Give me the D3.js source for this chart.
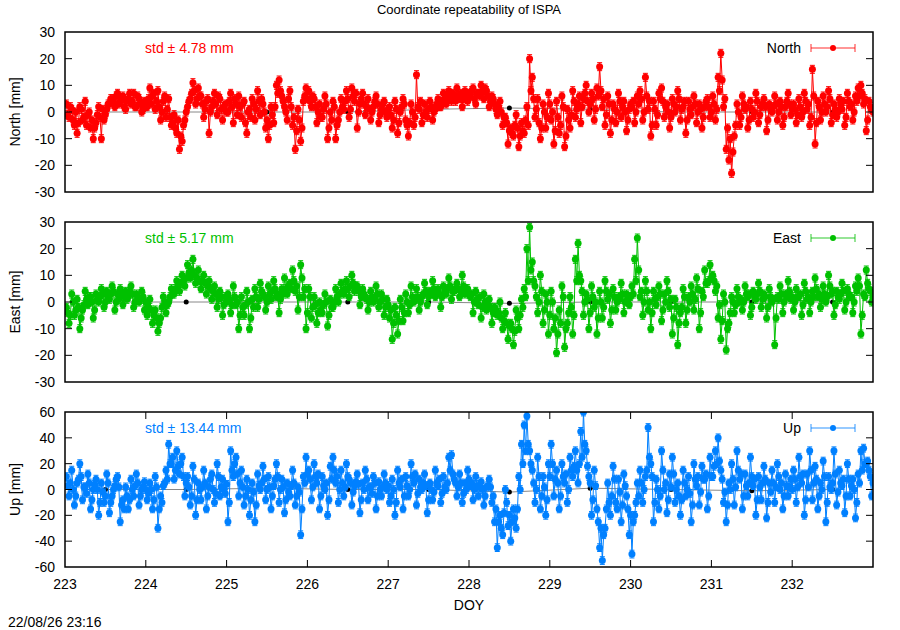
<!DOCTYPE html>
<html>
<head>
<meta charset="utf-8">
<script src="https://cdn.jsdelivr.net/npm/d3@7"></script>
<style>
  body { margin: 0; background: #fff; }
  svg text { font-family: "Liberation Sans", Arial, sans-serif; }
</style>
</head>
<body>
<svg id="chart" width="900" height="630"></svg>
<script>
// epoch solutions in mm, 30 per day for DOY 223-232;
// the "B" lists are the epochs half way between the "A" ones
const epochsPerDay = 30;
const firstDoy = 223;

const northValues = [
  3, -2, 1, -5, -8, 2, -3, 4, -1, -6, -10, -4, 2, -10, -3, 1, 3, 5, 2, 7, 4, 6, 1, 5, 3, 7, 2, 5, 0, 4,
  2, 9, 6, 1, 8, -3, 4, -2, 5, -5, -1, -8, -14, -11, -3, 2, 5, 11, 3, 9, 6, -2, 4, -8, 2, 7, -1, 5, -3, 3,
  0, 7, -4, 3, 6, -2, 4, -8, 1, 5, -3, 8, -1, 3, -6, -10, 2, -4, 10, 12, 6, 2, -3, 8, -5, -14, 1, -11, 4, 9,
  8, 2, 5, -4, 3, -2, 6, -10, 0, 4, -10, -3, 5, 1, 8, -2, 9, 4, -6, 3, 7, -1, 5, -3, 2, 6, -4, 1, 4, -2,
  2, -6, 4, -8, 0, 5, -3, -9, 3, -5, 14, 1, -4, 3, -2, 4, -3, 1, 5, 2, 7, 3, 8, 4, 6, 9, 5, 2, 8, 4,
  6, 9, 3, 7, 10, 5, 8, 2, 6, 3, -1, 4, -5, -2, -12, -6, -9, -1, -13, -4, -8, 2, 20, 13, -2, 5, -10, 3, -6, 7,
  -3, -12, 4, -8, 6, -13, 1, -6, 8, -2, 3, -4, 5, 10, 0, 7, -3, 9, 17, 2, -5, 6, -8, 3, -4, 7, -2, 4, -7, 1,
  2, -4, 6, 8, -3, 13, 1, -9, 4, -5, 7, 9, -2, 3, -6, 5, 0, 8, -3, 2, -8, 4, -1, 6, -4, 3, -6, 2, 5, -2,
  6, -3, 13, 22, 2, -14, -18, -23, -9, 3, -5, 6, 1, -6, 4, -2, 7, -4, 2, 5, -7, 3, 0, 6, -3, 4, -5, 2, 7, -1,
  3, -4, 5, -2, 7, 1, -5, 16, -12, 4, -3, 6, 0, 8, -4, 3, -2, 5, 1, -5, 7, 2, -3, 6, 9, 10, 3, -7, 4, 1
];
const northValuesB = [
  -1, 2, -3, 0, -4, 1, -2, -5, 0, -3, -6, -1, -2, 1, -1, 3, 5, 4, 6, 3, 5, 2, 4, 7, 4, 2, 6, 3, 1, 2,
  5, 3, 7, 4, 2, 0, 6, 1, -2, -4, -6, -3, -9, -5, 0, 4, 7, 8, 5, 6, 3, 1, 5, 0, 4, 3, 6, 1, 2, 0,
  4, 2, 5, -1, 2, 3, -4, 0, -2, 3, 1, 4, 5, 0, -3, -5, -1, 2, 7, 8, 4, 0, 5, 2, -2, -7, -3, -6, 6, 5,
  4, 6, 2, 0, -2, 1, 3, -6, -3, 2, -5, 0, 2, 4, 5, 1, 6, 7, 0, 5, 3, 2, 1, 0, 4, 3, -1, 3, 0, 1,
  -1, -3, 1, -4, 2, 3, -5, -4, 0, -2, 2, 4, -1, 0, 1, 2, 0, 3, 2, 4, 5, 6, 5, 7, 4, 6, 7, 5, 6, 7,
  8, 5, 7, 6, 8, 9, 6, 4, 5, 1, 2, 0, -2, -4, -7, -8, -5, -6, -9, -7, -3, -5, 8, 5, 1, -4, -6, 0, -2, 3,
  0, -7, -2, -5, 2, -9, -3, -1, 4, 1, 6, 2, 7, 4, 3, 5, 1, 6, 8, 5, -1, 3, -3, 1, 0, 4, 2, 0, -3, 3,
  4, 0, 3, 5, 0, 6, 4, -5, 1, -1, 5, 4, 2, 0, -2, 3, 2, 5, 1, 4, -3, 1, 2, 3, 0, 1, -2, 4, 2, 0,
  3, 1, 8, 12, 5, -6, -10, -15, -5, 0, -2, 3, 2, -3, 1, 0, 4, -1, 3, 2, -3, 1, 2, 3, 0, 2, -2, 4, 3, 1,
  1, -1, 2, 0, 4, 3, -2, 6, -4, 2, 0, 3, 2, 5, -1, 1, 0, 3, 4, -2, 4, 3, 0, 4, 6, 7, 5, -3, 2, 0
];

const eastValues = [
  -2, -8, 3, -5, 1, -10, -3, 4, -1, 2, -6, 3, 0, 5, -2, 4, 1, 6, -3, 3, 5, -1, 4, 2, 6, -2, 3, 0, 4, -3,
  -5, 1, -8, -3, -11, -6, 2, -4, 0, 5, 3, 8, 4, 10, 6, 14, 9, 16, 7, 12, 5, 10, 3, 8, 1, 6, -2, 4, -5, 2,
  3, -4, 6, -1, -10, 2, -5, 4, -10, 1, 5, -2, 7, 3, -3, 6, 1, 8, 2, -4, 5, 9, 3, 7, 12, 4, -3, 14, 2, -10,
  5, -6, 2, -8, 0, -4, 3, -9, 1, -2, 5, 0, 7, 3, 8, 2, 10, 4, 6, -1, 5, 2, -3, 4, 0, 6, -2, 3, -5, 1,
  -6, -14, -2, -12, 1, -7, 3, -4, 6, 0, 5, -3, 2, 7, -1, 4, 8, 2, 5, -2, 6, 3, 9, 1, 4, 7, 2, 10, 3, 5,
  2, -4, 4, -1, -6, 3, -3, 1, -8, -2, -5, 0, -10, -4, -14, -8, -16, -3, -10, 1, 5, 20, 28, 15, 6, -4, 10, -8, 3, -12,
  4, -10, -19, -3, 6, -17, -8, 2, -12, 16, 22, 8, -5, 3, -10, 6, -2, -12, 4, -6, 8, 1, -8, 5, -3, 2, 7, -4, 3, -1,
  6, 16, 24, 2, -5, 8, -3, -10, 4, -1, 6, -7, 3, 8, -2, -12, 1, -16, -4, 5, -8, 2, 6, -3, 9, -10, 4, 12, 7, 14,
  10, 4, -6, -14, 3, -18, -8, 2, -4, 5, 0, -3, 6, 2, -5, 4, 1, 7, -2, 3, -6, 5, 0, -16, 2, 6, -4, 3, 8, 1,
  -3, 5, 2, -5, 7, 1, -4, 4, 9, 2, -2, 6, 0, 10, 3, -5, 4, 1, 7, -3, 5, 2, -4, 6, 9, -12, 3, 12, 5, 0
];
const eastValuesB = [
  -4, -5, 0, -3, -2, -6, -1, 1, 2, 0, -3, 1, 2, 3, 0, 2, 3, 4, 0, 1, 3, 2, 1, 4, 3, 0, 2, 1, 2, 0,
  -2, -3, -5, -6, -8, -2, 0, -1, 2, 3, 5, 6, 7, 8, 9, 11, 12, 10, 9, 8, 8, 7, 6, 5, 4, 3, 1, 2, -1, 0,
  1, -1, 2, 0, -5, -2, -1, 0, -6, -2, 2, 1, 4, 2, 0, 3, 4, 5, 3, 1, 3, 5, 6, 5, 8, 6, 2, 9, 5, -4,
  2, -2, -1, -4, -3, -1, 0, -5, -2, 0, 2, 3, 4, 5, 5, 6, 7, 6, 4, 2, 3, 1, 0, 2, 1, 3, 0, 1, -2, -1,
  -3, -8, -5, -7, -2, -4, 0, -1, 2, 1, 2, 0, 3, 4, 2, 3, 5, 4, 3, 2, 4, 5, 6, 4, 5, 5, 4, 6, 5, 3,
  3, 0, 1, 2, -2, 0, -1, -2, -4, -3, -4, -6, -7, -8, -9, -10, -11, -6, -5, -2, 2, 8, 12, 8, 2, 0, 4, -3, 0, -5,
  0, -6, -12, -8, 2, -10, -4, -2, -5, 8, 10, 4, 0, 1, -4, 2, 0, -6, 0, -2, 4, 3, -3, 2, 0, 1, 3, 0, 1, 2,
  3, 8, 12, 4, 0, 4, 0, -4, 1, 2, 3, -3, 0, 4, 1, -6, -2, -8, -2, 2, -3, 0, 3, 1, 5, -4, 2, 7, 8, 9,
  8, 6, -1, -7, 0, -10, -4, 0, -1, 2, 1, 0, 3, 3, -2, 2, 3, 4, 1, 2, -2, 2, 1, -6, 1, 3, 0, 2, 4, 2,
  0, 2, 3, -1, 4, 2, 0, 2, 5, 3, 1, 3, 2, 6, 4, -1, 2, 3, 4, 0, 3, 2, 0, 4, 6, -5, 2, 7, 4, 2
];

const upValues = [
  10, -5, 15, -12, 5, 20, -8, 2, 12, -15, 0, 8, -20, 5, -10, 12, -18, -5, 3, 10, -25, -8, 2, -15, 8, -5, 12, -12, 0, 6,
  -8, 5, -15, 10, -30, -5, 3, 15, 35, 20, 8, 30, 12, 25, -5, 10, -12, 18, -20, 5, -8, 15, -15, 2, 12, -10, 20, -5, 8, -3,
  -25, 30, 10, 25, -5, 15, -12, 8, -20, 5, -25, 12, 0, 18, -8, 10, -15, 3, 20, -10, 8, -18, 5, -5, 15, -12, 2, -35, 10, 25,
  15, -8, 20, 5, -15, 10, 0, -20, 18, 25, 5, -10, 15, -5, 20, 8, -12, 3, 12, -18, 5, 15, -8, 2, 10, -15, 6, -5, 12, 0,
  -10, 8, -20, 15, 2, -15, 10, -5, 20, 5, -12, 8, 0, 12, -18, 5, -8, 15, 3, -10, 10, 0, 25, 27, 8, -5, 12, -10, 5, 15,
  3, -8, 10, -5, 6, -12, 2, 8, -10, -25, -45, -20, -35, 0, -28, -40, -15, -30, 10, 35, 50, 57, 30, 15, -10, 25, -15, 10, -20, 20,
  35, -5, 15, -15, 20, 5, -10, 25, 10, 30, 5, 45, 60, 30, 10, -20, 15, -15, -45, -55, -30, 5, -20, 18, -10, 8, -25, 12, -5, -35,
  -50, -20, 5, 15, -10, 10, 48, 20, -25, 8, -15, 30, 0, -18, 12, 25, -10, 5, -20, 15, -5, 10, -25, 20, 3, -12, 18, 8, -15, 25,
  10, 30, 40, 15, -10, -25, 5, 20, -12, 30, 8, -15, 12, -5, 25, 3, -20, 10, -8, 18, -22, 5, 15, -10, 20, 0, -15, 12, -5, 8,
  15, -10, 25, 5, -20, 12, 30, -8, 18, -15, 5, 22, -25, 10, 0, 30, -12, 15, 3, -18, 20, -5, 8, -22, 12, 30, 32, 20, 15, -5
];
const upValuesB = [
  3, 5, 0, -5, 8, 10, 2, -3, 5, -8, 4, 0, -10, -2, -5, 5, -10, 0, 8, 2, -12, -15, -5, -8, 0, 3, 5, -5, 2, 0,
  -3, 0, -8, 2, -15, -10, 5, 8, 20, 25, 15, 18, 20, 10, 5, 2, -5, 8, -8, 0, 2, 5, -5, 8, 0, -3, 10, 2, 0, 4,
  -10, 15, 20, 12, 5, 2, -5, 0, -8, -2, -12, 3, 5, 8, 0, 2, -5, 8, 10, 0, 2, -8, -2, 3, 5, -5, -2, -15, 5, 12,
  8, 2, 10, 12, -5, 3, 5, -8, 8, 15, 10, 0, 5, 2, 10, 5, -2, 6, 4, -8, 0, 8, 2, -3, 5, -5, 0, 2, 5, 3,
  -5, 0, -10, 5, 8, -5, 3, 0, 10, 12, -3, 2, 5, 3, -8, 0, -2, 5, 8, -3, 2, 5, 15, 12, 5, 2, 5, -3, 0, 8,
  5, 0, 3, 2, 0, -5, 3, 2, -5, -15, -25, -30, -18, -10, -20, -25, -22, -15, 0, 20, 30, 35, 20, 5, 0, 10, -5, 2, -8, 10,
  20, 8, 5, -5, 10, 12, 0, 15, 18, 15, 20, 25, 35, 18, 5, -8, 3, -25, -30, -35, -15, -10, -5, 8, -15, -2, -12, 3, -15, -20,
  -25, -10, -5, 5, 0, 15, 25, 10, -10, 0, -5, 15, 5, -8, 2, 12, 0, -5, -8, 5, 0, -3, -12, 8, 10, -2, 8, 12, -5, 10,
  18, 20, 22, 8, -2, -12, 0, 8, 2, 15, 12, -5, 3, 5, 10, 8, -8, 2, 5, 8, -10, -2, 5, 2, 10, 5, -5, 3, 2, 0,
  8, 2, 10, 12, -8, 2, 15, 5, 8, -5, 0, 10, -10, 2, 5, 12, -2, 5, 8, -5, 8, 3, 0, -10, 5, 15, 20, 22, 10, 5
];

// daily solutions (black, drawn under the epochs)
const dailyDoy = [223.5, 224.5, 225.5, 226.5, 227.5, 228.5, 229.5, 230.5, 231.5, 232.5];
const dailyNorth = [0, 0, 0, 0, 1, 1.5, 1, 0, 0, 0];
const dailyEast = [0, 0, 0, 0, 0, -0.5, 0, 0, 0, 0];
const dailyUp = [0, 0, 1, 0, 0, -2, 1, 0, -1, 0];

const xTicks = [223, 224, 225, 226, 227, 228, 229, 230, 231, 232];
const neTicks = [-30, -20, -10, 0, 10, 20, 30];
const upTicks = [-60, -40, -20, 0, 20, 40, 60];

const panelNames = ["North", "East", "Up"];
const panelStd = ["4.78", "5.17", "13.44"];
const panelColors = ["#ff0000", "#00c000", "#0080ff"];

const svg = d3.select("#chart");
const left = 65, right = 873;

const x = d3.scaleLinear().domain([223, 233]).range([left, right]);

svg.append("text")
  .attr("x", 469)
  .attr("y", 14)
  .attr("text-anchor", "middle")
  .style("font-size", "13px")
  .text("Coordinate repeatability of ISPA");

const panels = [
  { values: northValues, valuesB: northValuesB, daily: dailyNorth, ticks: neTicks, err: 1.5, top: 32, bottom: 192 },
  { values: eastValues, valuesB: eastValuesB, daily: dailyEast, ticks: neTicks, err: 1.5, top: 222, bottom: 382 },
  { values: upValues, valuesB: upValuesB, daily: dailyUp, ticks: upTicks, err: 3, top: 412, bottom: 567 }
];

panels.forEach((p, k) => {
  const color = panelColors[k];
  const name = panelNames[k];
  const y = d3.scaleLinear()
    .domain([p.ticks[0], p.ticks[p.ticks.length - 1]])
    .range([p.bottom, p.top]);
  const g = svg.append("g");
  const clipId = "clip" + k;
  g.append("clipPath").attr("id", clipId)
    .append("rect")
    .attr("x", left).attr("y", p.top)
    .attr("width", right - left).attr("height", p.bottom - p.top);

  const points = p.values.map((v, i) => ({ doy: firstDoy + (i + 0.5) / epochsPerDay, v: v }))
    .concat(p.valuesB.map((v, i) => ({ doy: firstDoy + (i + 1) / epochsPerDay, v: v })))
    .sort((a, b) => a.doy - b.doy);
  const daily = dailyDoy.map((d, i) => ({ doy: d, v: p.daily[i] }));
  const line = d3.line().x(d => x(d.doy)).y(d => y(d.v));

  const plot = g.append("g").attr("clip-path", "url(#" + clipId + ")");

  // daily solution
  plot.append("path")
    .datum(daily)
    .attr("d", line)
    .attr("fill", "none")
    .attr("stroke", "#888")
    .attr("stroke-width", 1);
  plot.selectAll("circle.daily")
    .data(daily)
    .enter().append("circle")
    .attr("class", "daily")
    .attr("cx", d => x(d.doy))
    .attr("cy", d => y(d.v))
    .attr("r", 2.5)
    .attr("fill", "#000");

  // epoch solutions: line, error bars, points
  plot.append("path")
    .datum(points)
    .attr("d", line)
    .attr("fill", "none")
    .attr("stroke", color)
    .attr("stroke-width", 1);
  const bars = plot.selectAll("g.bar")
    .data(points)
    .enter().append("g")
    .attr("class", "bar")
    .attr("stroke", color)
    .attr("stroke-width", 1);
  bars.append("line")
    .attr("x1", d => x(d.doy)).attr("x2", d => x(d.doy))
    .attr("y1", d => y(d.v - p.err)).attr("y2", d => y(d.v + p.err));
  bars.append("line")
    .attr("x1", d => x(d.doy) - 2.5).attr("x2", d => x(d.doy) + 2.5)
    .attr("y1", d => y(d.v - p.err)).attr("y2", d => y(d.v - p.err));
  bars.append("line")
    .attr("x1", d => x(d.doy) - 2.5).attr("x2", d => x(d.doy) + 2.5)
    .attr("y1", d => y(d.v + p.err)).attr("y2", d => y(d.v + p.err));
  plot.selectAll("circle.pt")
    .data(points)
    .enter().append("circle")
    .attr("class", "pt")
    .attr("cx", d => x(d.doy))
    .attr("cy", d => y(d.v))
    .attr("r", 3.5)
    .attr("fill", color);

  // y ticks, both sides
  p.ticks.forEach(t => {
    if (t !== p.ticks[0] && t !== p.ticks[p.ticks.length - 1]) {
      g.append("line")
        .attr("x1", left).attr("x2", left + 7)
        .attr("y1", y(t)).attr("y2", y(t))
        .attr("stroke", "#000");
      g.append("line")
        .attr("x1", right - 7).attr("x2", right)
        .attr("y1", y(t)).attr("y2", y(t))
        .attr("stroke", "#000");
    }
    g.append("text")
      .attr("x", 55)
      .attr("y", y(t) + 5)
      .attr("text-anchor", "end")
      .style("font-size", "14px")
      .text(t);
  });

  // x ticks on the lowest panel only
  if (k === panels.length - 1) {
    xTicks.forEach(t => {
      if (t !== 223) {
        g.append("line")
          .attr("x1", x(t)).attr("x2", x(t))
          .attr("y1", p.bottom).attr("y2", p.bottom - 7)
          .attr("stroke", "#000");
        g.append("line")
          .attr("x1", x(t)).attr("x2", x(t))
          .attr("y1", p.top).attr("y2", p.top + 7)
          .attr("stroke", "#000");
      }
      g.append("text")
        .attr("x", x(t))
        .attr("y", p.bottom + 22)
        .attr("text-anchor", "middle")
        .style("font-size", "14px")
        .text(t);
    });
  }

  // border
  g.append("rect")
    .attr("x", left).attr("y", p.top)
    .attr("width", right - left).attr("height", p.bottom - p.top)
    .attr("fill", "none")
    .attr("stroke", "#000")
    .attr("stroke-width", 1.5);

  // y label
  g.append("text")
    .attr("transform", "translate(20," + (p.top + p.bottom) / 2 + ") rotate(-90)")
    .attr("text-anchor", "middle")
    .style("font-size", "14px")
    .text(name + " [mm]");

  // std note
  g.append("text")
    .attr("x", 145)
    .attr("y", p.top + 21)
    .attr("fill", color)
    .style("font-size", "14px")
    .text("std \u00b1 " + panelStd[k] + " mm");

  // key
  const ky = p.top + 16;
  g.append("text")
    .attr("x", 801)
    .attr("y", ky + 5)
    .attr("text-anchor", "end")
    .style("font-size", "14px")
    .text(name);
  const key = g.append("g")
    .attr("stroke", color)
    .attr("stroke-opacity", 0.55)
    .attr("stroke-width", 1.5);
  key.append("line").attr("x1", 811).attr("x2", 855).attr("y1", ky).attr("y2", ky);
  key.append("line").attr("x1", 811).attr("x2", 811).attr("y1", ky - 4).attr("y2", ky + 4);
  key.append("line").attr("x1", 855).attr("x2", 855).attr("y1", ky - 4).attr("y2", ky + 4);
  g.append("circle")
    .attr("cx", 833).attr("cy", ky)
    .attr("r", 3)
    .attr("fill", color);
});

svg.append("text")
  .attr("x", 469)
  .attr("y", 610)
  .attr("text-anchor", "middle")
  .style("font-size", "14px")
  .text("DOY");

svg.append("text")
  .attr("x", 8)
  .attr("y", 627)
  .style("font-size", "14px")
  .text("22/08/26 23:16");
</script>
</body>
</html>
